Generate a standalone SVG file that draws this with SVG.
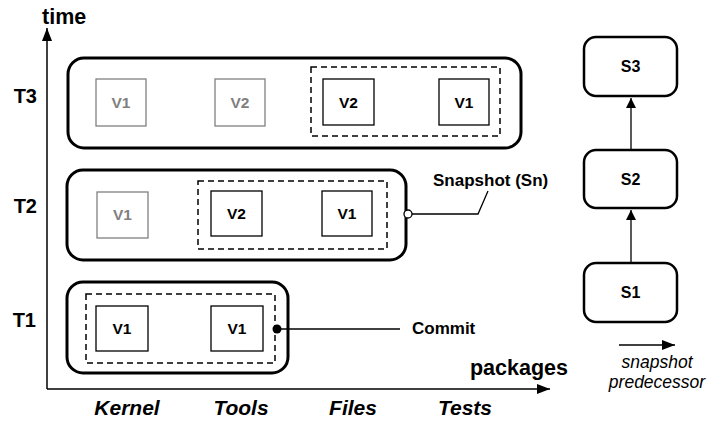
<svg xmlns="http://www.w3.org/2000/svg" width="707" height="421" viewBox="0 0 707 421">
  <style>
    text { font-family: "Liberation Sans", Arial, sans-serif; fill: #000; }
    .axis { stroke: #000; stroke-width: 1.5; fill: none; }
    .big { font-size: 20px; font-weight: bold; }
    .axlabel { font-size: 21.5px; font-weight: bold; }
    .pkg { font-size: 21px; font-weight: bold; font-style: italic; text-anchor: middle; }
    .snap { fill: #fff; stroke: #000; stroke-width: 3; }
    .group { fill: none; stroke: #000; stroke-width: 1.5; stroke-dasharray: 6 4; }
    .ver { fill: #fff; stroke: #000; stroke-width: 1.3; }
    .old { fill: #fff; stroke: #808080; stroke-width: 1.3; }
    .vt { font-size: 15.5px; font-weight: bold; text-anchor: middle; }
    .vt-old { font-size: 15.5px; font-weight: bold; text-anchor: middle; fill: #808080; }
    .st { font-size: 16px; font-weight: bold; text-anchor: middle; }
    .label { font-size: 17px; font-weight: bold; }
    .sbox { fill: #fff; stroke: #000; stroke-width: 2.5; }
    .link { stroke: #000; stroke-width: 1.3; fill: none; }
    .legend { font-size: 17.5px; font-style: italic; text-anchor: middle; }
  </style>
  <defs>
    <marker id="tri" viewBox="0 0 10 10" refX="10" refY="5" markerWidth="10" markerHeight="10" markerUnits="userSpaceOnUse" orient="auto">
      <path d="M0,0 L10,5 L0,10 z" fill="#000"/>
    </marker>
    <marker id="tri-lg" viewBox="0 0 13 10" refX="13" refY="5" markerWidth="13" markerHeight="10" markerUnits="userSpaceOnUse" orient="auto">
      <path d="M0,0 L13,5 L0,10 z" fill="#000"/>
    </marker>
  </defs>

  <!-- axes -->
  <g id="axes">
    <path class="axis" d="M47,389 V28" marker-end="url(#tri-lg)"/>
    <path class="axis" d="M47,389 H550" marker-end="url(#tri-lg)"/>
    <text class="axlabel" x="42" y="24">time</text>
    <text class="axlabel" x="568" y="375" text-anchor="end">packages</text>
    <text class="big" x="37" y="103" text-anchor="end">T3</text>
    <text class="big" x="37" y="213" text-anchor="end">T2</text>
    <text class="big" x="36" y="327" text-anchor="end">T1</text>
    <text class="pkg" x="127" y="415">Kernel</text>
    <text class="pkg" x="241" y="415">Tools</text>
    <text class="pkg" x="353" y="415">Files</text>
    <text class="pkg" x="465" y="415">Tests</text>
  </g>

  <!-- snapshot at T3 -->
  <g id="snapshot-t3">
    <rect class="snap" x="68" y="58" width="453" height="90" rx="16"/>
    <rect class="old" x="96" y="79" width="50" height="47"/>
    <text class="vt-old" x="121" y="108">V1</text>
    <rect class="old" x="215" y="79" width="50" height="47"/>
    <text class="vt-old" x="240" y="108">V2</text>
    <rect class="group" x="311" y="67" width="189" height="69"/>
    <rect class="ver" x="323" y="79" width="51" height="46"/>
    <text class="vt" x="348.5" y="108">V2</text>
    <rect class="ver" x="439" y="79" width="50" height="46"/>
    <text class="vt" x="464" y="108">V1</text>
  </g>

  <!-- snapshot at T2 -->
  <g id="snapshot-t2">
    <rect class="snap" x="67" y="170" width="339" height="90" rx="16"/>
    <rect class="old" x="97" y="192" width="51" height="46"/>
    <text class="vt-old" x="122.5" y="220">V1</text>
    <rect class="group" x="198" y="181" width="189" height="68"/>
    <rect class="ver" x="211" y="191" width="51" height="45"/>
    <text class="vt" x="236.5" y="219">V2</text>
    <rect class="ver" x="322" y="191" width="50" height="45"/>
    <text class="vt" x="347" y="219">V1</text>
  </g>

  <!-- snapshot at T1 -->
  <g id="snapshot-t1">
    <rect class="snap" x="67" y="282" width="221" height="91" rx="16"/>
    <rect class="group" x="86" y="294" width="189" height="69"/>
    <rect class="ver" x="96" y="306" width="52" height="45"/>
    <text class="vt" x="122" y="334">V1</text>
    <rect class="ver" x="211" y="306" width="52" height="45"/>
    <text class="vt" x="237" y="334">V1</text>
  </g>

  <!-- snapshot chain -->
  <g id="s3">
    <rect class="sbox" x="584" y="37" width="93" height="59" rx="12"/>
    <text class="st" x="630.5" y="72">S3</text>
  </g>
  <g id="s2">
    <rect class="sbox" x="584" y="150" width="93" height="58" rx="12"/>
    <text class="st" x="630.5" y="185">S2</text>
  </g>
  <g id="s1">
    <rect class="sbox" x="584" y="263" width="93" height="59" rx="12"/>
    <text class="st" x="630.5" y="298">S1</text>
  </g>

  <!-- connectors and callouts -->
  <g id="connectors">
    <path class="link" d="M631,150 V98" marker-end="url(#tri)"/>
    <path class="link" d="M631,263 V210" marker-end="url(#tri)"/>
    <path class="link" d="M619,345 H675" marker-end="url(#tri-lg)"/>
    <path class="link" d="M412,214 H478 L488,191"/>
    <circle cx="408" cy="214" r="4" fill="#fff" stroke="#000" stroke-width="1.3"/>
    <path class="link" d="M277,329 H400"/>
    <circle cx="277" cy="329" r="4.5" fill="#000"/>
  </g>

  <!-- annotations -->
  <g id="annotations">
    <text class="label" x="433" y="186">Snapshot (Sn)</text>
    <text class="label" x="412" y="334">Commit</text>
    <text class="legend" x="657" y="368">snapshot</text>
    <text class="legend" x="657" y="388">predecessor</text>
  </g>
</svg>
